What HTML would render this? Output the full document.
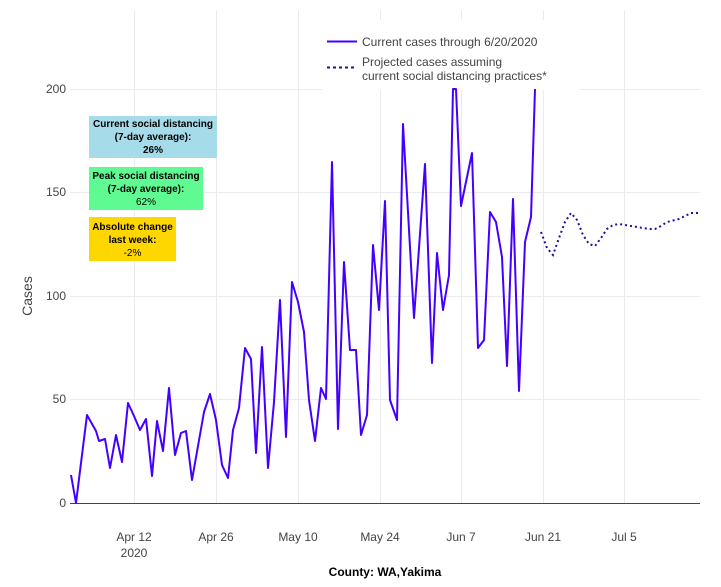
<!DOCTYPE html>
<html><head><meta charset="utf-8"><style>
body{margin:0;background:#fff;width:721px;height:587px;overflow:hidden;font-family:"Liberation Sans",sans-serif}
.box{position:absolute;font-size:10px;font-weight:bold;text-align:center;line-height:13px;color:#000}
</style></head><body>
<svg width="721" height="587" style="position:absolute;left:0;top:0" font-family="Liberation Sans, sans-serif">
<g stroke="#ebebeb" stroke-width="1">
<line x1="70" x2="700" y1="89.5" y2="89.5"/><line x1="70" x2="700" y1="192.5" y2="192.5"/><line x1="70" x2="700" y1="296.5" y2="296.5"/><line x1="70" x2="700" y1="399.5" y2="399.5"/>
<line x1="134.5" x2="134.5" y1="10" y2="503"/><line x1="216.5" x2="216.5" y1="10" y2="503"/><line x1="298.5" x2="298.5" y1="10" y2="503"/><line x1="380.5" x2="380.5" y1="10" y2="503"/><line x1="461.5" x2="461.5" y1="10" y2="503"/><line x1="543.5" x2="543.5" y1="10" y2="503"/><line x1="624.5" x2="624.5" y1="10" y2="503"/>
</g>
<line x1="70" x2="700" y1="503.5" y2="503.5" stroke="#444" stroke-width="1"/>
<rect x="322" y="20" width="258" height="70" fill="#fff"/>
<polyline fill="none" stroke="#4400ff" stroke-width="2" stroke-linejoin="round" points="71,475 76,503 87,415 96,431 99,441 105,439 110,468 116,435 122,462 128,403 134,416 140,430 146,419 152,476 157,421 163,451 169,388 175,455 181,433 186,431 192,480 198,446 204,412 210,394 216,420 222,465 228,478 233,430 239,408 245,348 251,359 256,453 262,347 268,468 274,402 280,300 286,437 292,282 298,302 304,332 309,400 315,441 321,388 326,399 332,162 338,429 344,262 350,350 356,350 361,435 367,415 373,245 379,310 385,201 390,400 397,420 403,124 414,318 425,164 432,363 437,253 443,310 449,275 453,89 456,89 461,206 472,153 478,348 484,340 490,212 496,222 502,257 507,366 513,199 519,391 525,242 531,217 535,89"/>
<polyline fill="none" stroke="#2a0a9a" stroke-width="2" stroke-dasharray="2,3" points="541,232 547,248 553,255 559,238 565,222 571,213 577,220 583,235 589,244 595,246 601,238 607,229 613,225 619,224 625,225 637,227 649,229 655,229 661,226 667,222 679,219 685,216 691,213 698,213"/>
<g font-size="12" fill="#444" text-anchor="end">
<text x="66" y="93">200</text><text x="66" y="196">150</text><text x="66" y="300">100</text><text x="66" y="403">50</text><text x="66" y="507">0</text>
</g>
<g font-size="12" fill="#444" text-anchor="middle">
<text x="134" y="541">Apr 12</text><text x="134" y="557">2020</text><text x="216" y="541">Apr 26</text><text x="298" y="541">May 10</text><text x="380" y="541">May 24</text><text x="461" y="541">Jun 7</text><text x="543" y="541">Jun 21</text><text x="624" y="541">Jul 5</text>
</g>
<text x="32" y="296" font-size="14" fill="#444" text-anchor="middle" transform="rotate(-90 32 296)">Cases</text>
<text x="385" y="576" font-size="12" font-weight="bold" fill="#000" text-anchor="middle">County: WA,Yakima</text>
<line x1="327" x2="357" y1="41.5" y2="41.5" stroke="#4400ff" stroke-width="2"/>
<line x1="327" x2="357" y1="67.5" y2="67.5" stroke="#2a0a9a" stroke-width="2" stroke-dasharray="3,3"/>
<g font-size="12" fill="#444"><text x="362" y="46">Current cases through 6/20/2020</text><text x="362" y="66">Projected cases assuming</text><text x="362" y="80">current social distancing practices*</text></g>
</svg>
<div class="box" style="left:89px;top:116px;width:128px;height:42px;background:#a6dbe9;padding-top:2px;box-sizing:border-box">Current social distancing<br>(7-day average):<br>26%</div>
<div class="box" style="left:89px;top:167px;width:114px;height:43px;background:#5ffb92;padding-top:3px;box-sizing:border-box">Peak social distancing<br>(7-day average):<br><span style="font-weight:normal">62%</span></div>
<div class="box" style="left:89px;top:217px;width:87px;height:44px;background:#ffd700;padding-top:4px;box-sizing:border-box">Absolute change<br>last week:<br><span style="font-weight:normal">-2%</span></div>
</body></html>
